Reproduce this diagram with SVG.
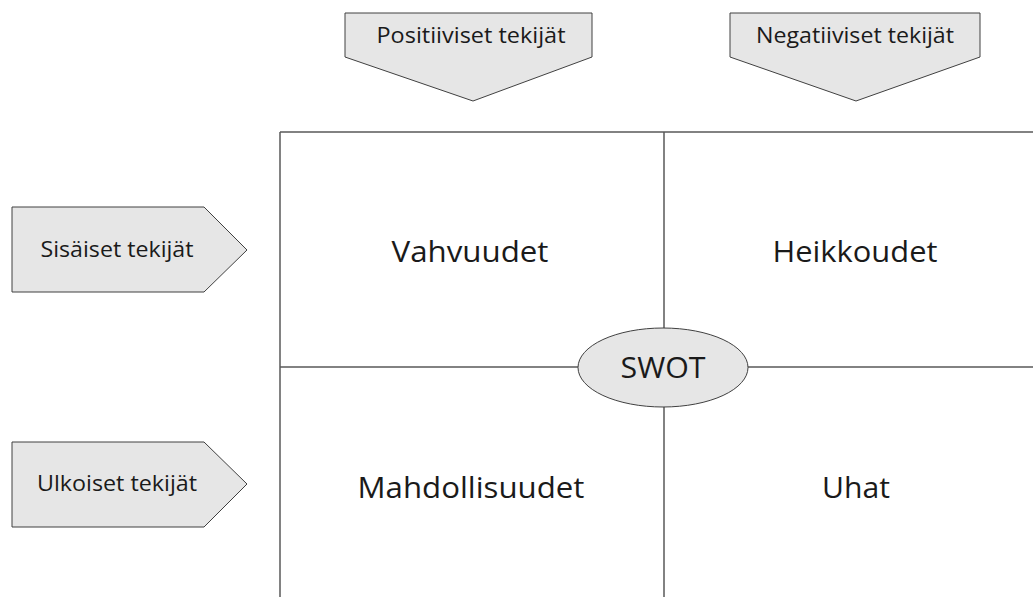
<svg xmlns="http://www.w3.org/2000/svg" width="1033" height="597" viewBox="0 0 1033 597">
<style>
.shape{fill:#e6e6e6;stroke:#404040;stroke-width:1}
.grid{stroke:#595959;stroke-width:1.5;fill:none}
.sm{font-family:"Open Sans","Liberation Sans",sans-serif;font-size:21px;fill:#1a1a1a;text-anchor:middle}
.lg{font-family:"Open Sans","Liberation Sans",sans-serif;font-size:30px;fill:#1a1a1a;text-anchor:middle}
</style>
<rect width="1033" height="597" fill="#ffffff"/>
<g id="connectors">
<line class="grid" x1="280" y1="132" x2="1033" y2="132" stroke="#262626"/>
<line class="grid" x1="280" y1="132" x2="280" y2="597"/>
<line class="grid" x1="664" y1="132" x2="664" y2="597"/>
<line class="grid" x1="280" y1="367" x2="1033" y2="367"/>
</g>
<g id="positiiviset">
<polygon class="shape" points="345,13 592,13 592,57 473,101 345,57"/>
<text class="sm" x="471" y="43" textLength="189" lengthAdjust="spacingAndGlyphs">Positiiviset tekijät</text>
</g>
<g id="negatiiviset">
<polygon class="shape" points="730,13 980,13 980,57 856,101 730,57"/>
<text class="sm" x="855" y="43" textLength="198" lengthAdjust="spacingAndGlyphs">Negatiiviset tekijät</text>
</g>
<g id="sisaiset">
<polygon class="shape" points="12,207 204,207 247,250 204,292 12,292"/>
<text class="sm" x="117" y="257" textLength="153" lengthAdjust="spacingAndGlyphs">Sisäiset tekijät</text>
</g>
<g id="ulkoiset">
<polygon class="shape" points="12,442 204,442 247,484 204,527 12,527"/>
<text class="sm" x="117" y="491" textLength="160" lengthAdjust="spacingAndGlyphs">Ulkoiset tekijät</text>
</g>
<g id="vahvuudet">
<text class="lg" x="470" y="262" textLength="157" lengthAdjust="spacingAndGlyphs">Vahvuudet</text>
</g>
<g id="heikkoudet">
<text class="lg" x="855" y="262" textLength="165" lengthAdjust="spacingAndGlyphs">Heikkoudet</text>
</g>
<g id="mahdollisuudet">
<text class="lg" x="471" y="498" textLength="227" lengthAdjust="spacingAndGlyphs">Mahdollisuudet</text>
</g>
<g id="uhat">
<text class="lg" x="856" y="498" textLength="68" lengthAdjust="spacingAndGlyphs">Uhat</text>
</g>
<g id="swot">
<ellipse class="shape" cx="663" cy="367.5" rx="85" ry="39.5"/>
<text class="lg" x="663" y="378" textLength="85" lengthAdjust="spacingAndGlyphs">SWOT</text>
</g>
</svg>
